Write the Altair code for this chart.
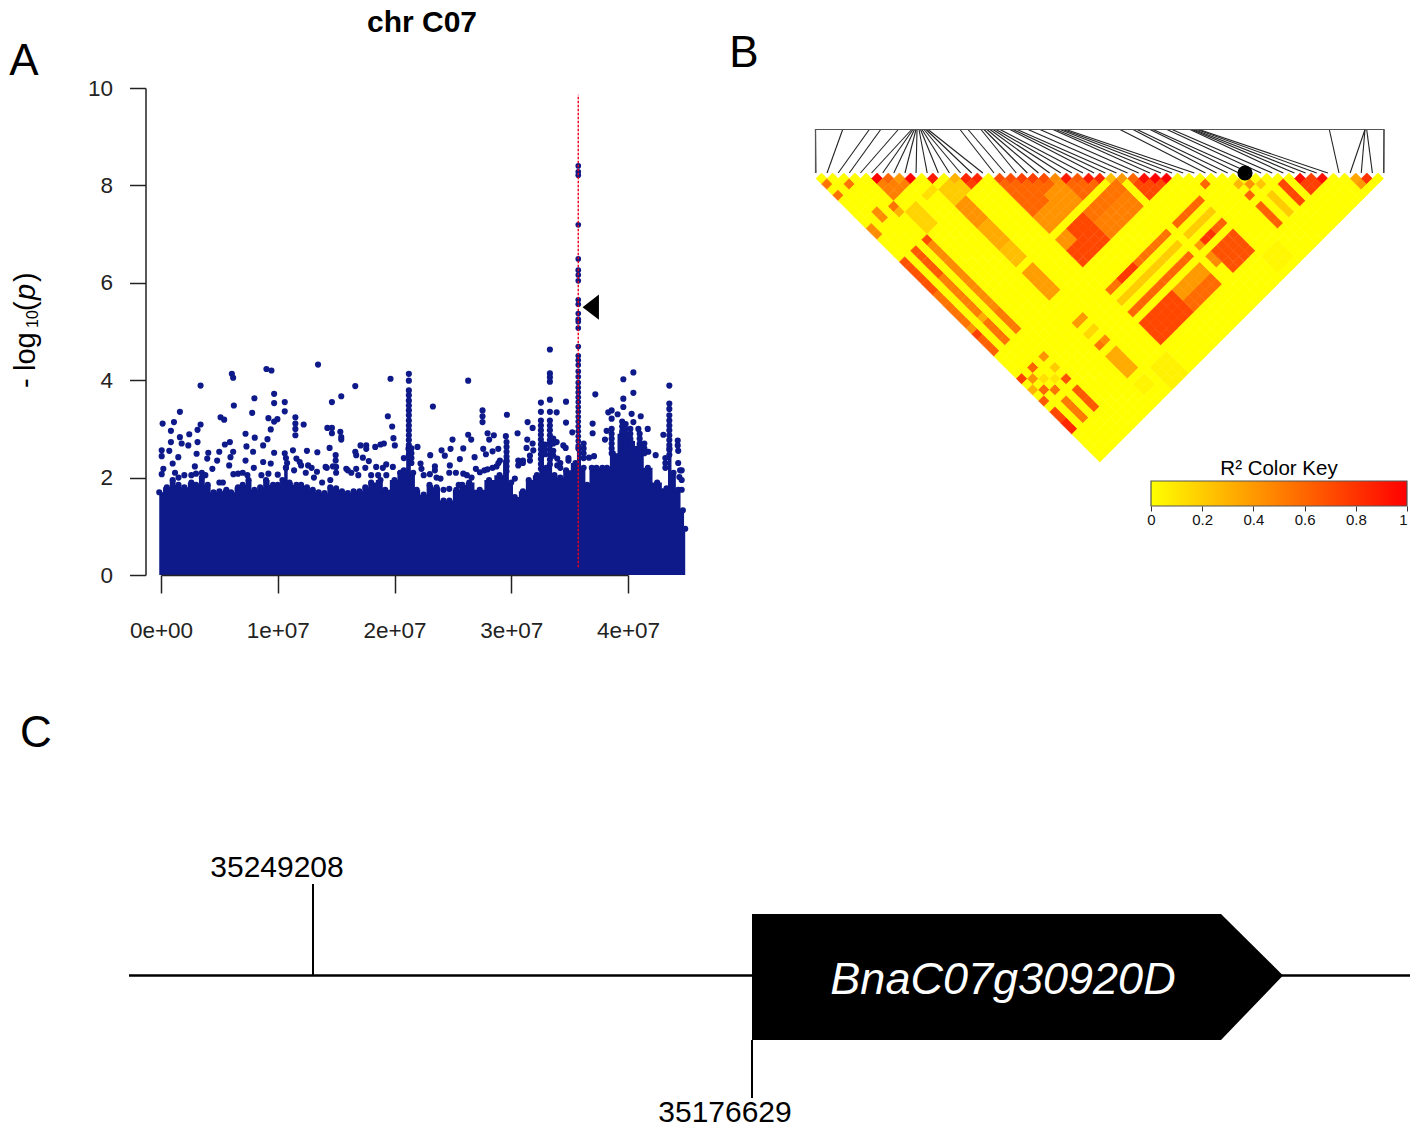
import altair as alt
import pandas as pd

FONT = "Liberation Sans"
W, H = 1402, 1122
NAVY = "#0e1a8a"

# ---------- Panel A: Manhattan plot (position in Mb, -log10 p) ----------
env_mb = [-0.15,0.5,1.0,1.5,2,2.6,3,3.5,4,4.5,5,5.6,6,6.6,7,7.5,8,8.5,9,9.6,10,10.4,10.7,11,11.6,12,12.5,13,13.5,14,14.5,15,15.5,16,16.5,17,17.5,18,18.8,19.2,20,20.5,20.8,21.2,21.6,21.9,22.5,23,23.6,24.2,24.7,25.3,25.8,26.4,27.3,28.1,29,29.6,30,30.3,31,31.5,32.2,32.6,33,33.3,33.7,34.2,34.7,35.5,35.75,36.2,36.5,36.9,37.3,37.8,38.2,38.7,39.5,40.2,41,41.7,42.5,43.3,43.55,43.9,44.3,44.7,44.9]
env_lp = [1.7,1.8,1.95,1.85,1.8,1.9,1.85,2.0,1.85,1.7,1.72,1.75,1.7,1.8,1.85,1.95,1.75,1.8,1.95,1.85,1.85,1.95,2.2,1.9,1.85,1.85,1.8,1.75,1.7,1.68,1.8,1.78,1.72,1.68,1.72,1.72,1.8,1.9,1.95,1.75,1.95,2.1,2.15,2.6,2.1,1.75,1.65,1.85,1.8,1.53,1.53,1.75,1.85,1.9,1.75,1.95,2.05,2.35,1.9,1.6,1.72,1.95,2.05,2.7,2.2,2.7,2.05,2.0,2.15,2.3,2.6,2.2,1.85,2.2,2.2,2.2,2.2,2.5,2.9,2.75,2.65,2.2,1.9,1.78,2.6,2.1,1.75,1.33,0.95]

out_mb = [0.14,1.11,1.62,3.39,0.85,0.85,1.62,1.77,2.42,2.34,3.13,3.39,3.13,3.05,0.06,0.06,0.71,1.48,0.2,0.06,1.0,2.9,5.1,5.41,6.07,6.18,6.24,5.47,5.9,4.99,4.05,3.96,4.81,6.18,5.95,5.84,7.24,7.32,7.81,8.0,8.03,7.89,7.24,7.95,9.03,9.46,9.69,9.69,10.6,10.6,9.2,9.97,9.69,9.4,9.12,8.75,9.69,8.75,9.4,13.45,11.51,11.51,11.51,11.51,12.22,12.5,11.3,11.6,13.39,11.88,12.6,13.36,14.25,14.64,14.64,14.64,15.44,16.64,15.36,15.44,15.44,14.44,14.96,14.96,14.1,14.73,15.87,16.72,16.64,16.72,17.09,17.58,17.29,17.58,18.35,18.8,19.09,17.8,18.43,19.29,19.86,19.66,19.43,19.8,19.91,20.03,
          21.23,21.23,21.23,21.23,21.23,21.23,21.23,21.23,21.23,21.23,21.23,26.31,23.29,21.97,23.06,24.03,24.31,24.8,24.97,25.89,26.31,26.57,26.86,25.6,24.74,24.69,25.26,25.89,23.46,23.46,23.03,22.23,22.31,23.94,24.69,26.97,27.31,27.54,27.54,27.54,27.97,28.51,28.11,27.6,27.83,28.4,28.89,29.03,28.74,27.97,29.63,29.54,29.6,30.54,31.4,31.83,31.37,31.31,31.83,31.89,32.54,32.54,32.54,32.54,32.54,32.54,33.31,33.31,33.31,33.31,33.31,33.31,33.89,33.31,33.31,33.31,34.69,34.69,35.23,34.46,34.66,33.89,33.94,33.94,30.31,37.2,36.97,36.97,36.66,37.09,39.6,40.46,40.46,39.6,39.6,39.11,38.31,38.6,38.6,40.31,41.09,40.46,40.89,41.69,38.17,38.6,38.03,42.37,41.74,43.03,43.54,43.54,43.54,43.54,43.54,43.54,43.54,44.26,44.26,44.46,44.4,44.6]
out_lp = [3.11,3.14,3.35,3.89,2.96,2.73,2.83,2.7,2.89,2.66,2.98,3.09,2.73,2.49,2.56,2.44,2.55,2.42,2.18,2.07,2.29,2.23,3.24,3.19,4.13,4.05,3.48,2.68,2.73,2.53,2.51,2.39,2.35,2.53,2.42,2.25,2.9,2.64,3.33,3.63,2.82,2.53,2.35,2.2,4.23,4.2,3.72,3.53,3.55,3.36,3.22,3.2,3.15,2.99,2.79,2.66,2.51,2.32,2.29,4.32,3.24,3.11,3.0,2.87,3.09,2.55,2.56,2.39,2.52,2.32,2.25,2.12,3.02,3.02,2.91,3.55,3.67,3.88,2.94,2.83,2.78,2.61,2.46,2.35,2.22,2.23,2.18,2.18,2.53,2.46,2.66,2.66,2.41,2.59,2.63,2.68,2.7,2.34,2.22,2.27,2.22,4.03,3.26,3.05,2.81,2.66,
          4.13,3.99,3.79,3.69,3.58,3.48,3.38,3.28,3.17,3.07,2.97,3.99,3.46,2.63,2.46,2.56,2.45,2.59,2.78,2.6,2.88,2.78,2.42,2.38,2.25,2.1,2.1,2.08,2.23,2.15,2.07,2.29,2.18,1.98,1.77,2.18,2.11,3.38,3.26,3.14,2.91,2.87,2.78,2.59,2.48,2.54,2.59,2.35,2.23,2.17,3.29,2.85,2.73,2.91,3.14,3.02,2.78,2.61,2.7,2.56,3.54,3.35,3.17,3.07,2.97,2.78,4.63,4.14,4.06,3.97,3.6,3.35,3.34,3.17,3.07,2.97,3.56,3.13,2.93,2.66,2.61,2.73,2.39,2.25,1.98,3.71,3.11,2.91,2.41,2.44,4.02,4.16,3.74,3.62,3.45,3.3,3.34,3.38,3.21,3.31,3.26,3.14,3.0,3.0,2.96,3.0,2.78,2.46,2.53,2.88,3.89,3.52,3.41,3.28,3.17,3.07,2.97,2.76,2.66,2.15,2.01,1.75]

# stacked dots near the top of the solid mass
near_mb = [1.2,1.5,2.0,2.6,3.0,3.5,3.8,4.4,5.0,5.3,6.2,6.6,7.0,7.4,8.6,9.2,10.0,10.6,10.7,10.8,10.7,11.4,12.0,12.4,12.9,13.1,13.8,14.2,14.5,15.0,15.0,16.0,16.3,16.9,17.5,18.0,18.6,19.0,19.3,
           20.8,20.5,22.5,23.6,24.2,25.5,26.2,26.6,27.7,28.4,28.9,
           21.23,21.23,21.23,21.23,21.23,21.45,21.45,21.45,21.45,29.6,29.6,29.6,29.6,29.6,29.6,30.6,30.6,31.0,31.0,31.6,31.6,
           32.54,32.54,32.54,32.54,32.54,32.54,32.54,32.9,32.9,32.9,33.31,33.31,33.31,33.31,33.31,33.31,33.31,33.6,33.6,33.6,33.6,34.2,34.2,34.9,34.9,
           36.2,36.2,36.2,36.2,38.6,38.6,38.6,38.6,38.6,39.5,39.5,39.5,39.5,39.5,39.5,39.8,39.8,39.8,39.8,39.8,39.8,40.2,40.2,40.2,40.2,41.0,41.0,41.0,41.0,41.0,41.4,41.4,41.4,
           43.54,43.54,43.54,43.54,43.54,43.2,43.2,43.2,44.3,44.3,44.6,44.6]
near_lp = [2.1,2.0,2.05,2.05,2.08,2.1,2.05,2.18,1.9,1.9,2.07,2.08,2.1,2.05,2.05,2.08,2.06,2.5,2.4,2.3,2.2,2.15,2.25,2.1,2.2,2.0,1.9,2.2,1.95,2.22,2.1,2.15,2.1,2.05,2.2,2.05,2.05,2.2,2.05,
           2.4,2.1,2.05,2.0,1.75,1.85,2.05,2.0,2.15,2.2,2.3,
           2.87,2.77,2.67,2.57,2.47,2.6,2.5,2.4,2.3,2.63,2.53,2.43,2.33,2.23,2.13,2.35,2.25,2.35,2.3,2.35,2.45,
           2.88,2.68,2.58,2.48,2.38,2.28,2.18,2.68,2.58,2.48,2.87,2.77,2.67,2.57,2.47,2.37,2.27,2.8,2.7,2.55,2.45,2.3,2.2,2.4,2.35,
           2.7,2.6,2.5,2.4,2.9,2.8,2.7,2.6,2.5,3.15,3.05,2.95,2.85,2.75,2.65,3.1,3.0,2.9,2.8,2.7,2.6,3.0,2.9,2.8,2.7,2.9,2.8,2.7,2.6,2.5,2.7,2.6,2.5,
           2.87,2.77,2.67,2.57,2.47,2.4,2.3,2.2,2.55,2.3,2.15,1.95]

lead_mb = 35.74
lead_lp = [8.4,8.28,8.21,7.19,6.49,6.26,6.16,6.04,5.65,5.56,5.37,5.25,5.2,5.07,4.69,4.5,4.41,4.31,4.18,4.07,3.95,3.85,3.75,3.65,3.55,3.45,3.35,3.25,3.15,3.05,2.95,2.85,2.75,2.65]
guide_lp = [0.16, 9.86]
marker_mb, marker_lp = 36.81, 5.5
y_ticks = [0, 2, 4, 6, 8, 10]
x_ticks = [0, 1e7, 2e7, 3e7, 4e7]

xA = alt.Scale(domain=[0, 4e7], range=[153, 620], clamp=False, nice=False, zero=False)
yA = alt.Scale(domain=[0, 10], range=[567, 80], nice=False, zero=False)

def X_A(field="bp", axis=None):
    return alt.X(f"{field}:Q", scale=xA, axis=axis, title=None)

def Y_A(field="lp", axis=None):
    return alt.Y(f"{field}:Q", scale=yA, axis=axis, title=None)

env_df = pd.DataFrame({"bp": [m * 1e6 for m in env_mb], "lp": env_lp})
out_df = pd.DataFrame({"bp": [m * 1e6 for m in out_mb + near_mb], "lp": out_lp + near_lp})
lead_df = pd.DataFrame({"bp": [lead_mb * 1e6] * len(lead_lp), "lp": lead_lp})

axis_y = alt.Axis(values=y_ticks, orient="left", offset=-137.5, tickSize=16, tickWidth=1.5, domainWidth=1.5,
                  tickColor="#222", domainColor="#222", grid=False, labelFont=FONT, labelFontSize=22.5,
                  labelColor="#222", labelPadding=17, labelOverlap=False, format="d", zindex=1,
                  labelFlush=False)
axis_x = alt.Axis(values=x_ticks, orient="bottom", offset=-555, tickSize=18, tickWidth=1.5, domainWidth=1.5,
                  tickColor="#222", domainColor="#222", grid=False, labelFont=FONT, labelFontSize=22.5,
                  labelColor="#222", labelPadding=26, labelOverlap=False, zindex=1, labelFlush=False,
                  labelExpr="replace(format(datum.value,'.0e'),'+','+0')")

mass = alt.Chart(env_df).mark_area(color=NAVY, clip=False, interpolate="step").encode(x=X_A(), y=Y_A())
edge = alt.Chart(env_df).mark_circle(color=NAVY, size=38, opacity=1).encode(x=X_A(), y=Y_A())
scatter = alt.Chart(out_df).mark_circle(color=NAVY, size=38, opacity=1).encode(x=X_A(axis=axis_x), y=Y_A(axis=axis_y))
lead = alt.Chart(lead_df).mark_circle(color=NAVY, size=32, opacity=1).encode(x=X_A(), y=Y_A())
guide = alt.Chart(pd.DataFrame({"bp": [lead_mb * 1e6], "lp": [guide_lp[0]], "lp2": [guide_lp[1]]})).mark_rule(
    color="#e8001c", strokeWidth=1.4, strokeDash=[2.5, 1.5]
).encode(x=X_A(), y=Y_A(), y2="lp2:Q")
marker = alt.Chart(pd.DataFrame({"bp": [marker_mb * 1e6], "lp": [marker_lp]})).mark_point(
    shape="M 1 -1.55 L -1 0 L 1 1.55 Z", size=269, filled=True, color="black", opacity=1
).encode(x=X_A(), y=Y_A())

# ---------- Panel B: LD triangle ----------
N_RANK = 51
ld_diag = [0,0,0,0,0,1,.6,.4,1,0,.9,0,.3,.85,.85,0,.7,.7,.75,.75,.7,.45,.9,.65,.9,.85,.25,.4,.6,.95,1,1,0,0,0,0,0,0,0,0,0,0,0,.95,.75,.95,0,0,.35,.8,0]
# (first p, last p, first q, last q, r2); later entries overwrite earlier ones
ld_blocks = [
    (0,0,1,1,.55),(2,2,3,3,.55),(0,0,3,3,.55),
    (5,8,5,8,.5),(8,9,11,11,.12),(5,6,11,14,.17),(10,12,12,14,.2),(4,4,9,9,.55),(4,4,10,10,.3),
    (2,2,8,9,.45),(0,0,9,10,.45),
    (13,14,13,14,.75),
    (4,4,15,26,.45),(4,4,15,15,.7),(2,2,15,26,.5),(2,2,15,19,.65),(0,0,15,26,.55),(0,0,15,20,.68),
    (0,0,27,31,.62),(0,0,27,27,.42),(0,0,28,28,.75),(2,2,27,31,.55),(2,2,27,27,.32),(4,4,27,31,.52),(4,4,27,27,.45),
    (10,11,15,18,.42),(10,11,19,22,.33),(10,11,23,25,.25),(10,11,27,31,.38),
    (16,25,16,25,.6),(16,18,23,25,.42),(19,21,22,25,.42),
    (16,26,27,31,.55),(16,20,27,31,.72),(16,17,27,28,.42),(21,26,29,31,.5),
    (28,31,28,31,.72),
    (28,32,36,36,.6),(28,32,38,38,.2),(28,32,40,40,.62),(28,28,40,40,.4),(29,30,40,40,.8),
    (29,32,42,45,.68),(28,28,42,43,.45),
    (16,26,42,45,.58),(16,21,42,45,.72),(22,26,42,43,.4),
    (16,26,40,40,.6),(16,26,38,38,.2),(16,26,36,36,.55),(18,20,36,36,.78),
    (39,39,42,45,.2),(37,37,42,45,.62),(41,41,42,45,.72),(34,34,35,35,.6),(37,37,38,38,.28),(38,38,39,39,.42),(39,39,40,40,.22),(37,37,40,40,.62),
    (43,45,43,45,.75),(48,48,49,49,.4),
    (13,15,47,50,.05),(10,11,47,48,.04),(33,35,47,49,.03),
    (4,4,36,36,.42),(4,4,38,38,.2),(2,2,36,36,.6),(2,2,38,38,.12),(1,1,37,37,.42),(0,0,36,36,.75),(4,4,40,40,.68),(3,3,39,39,.1),(0,0,38,38,.3),(1,1,39,39,.6),(2,2,40,40,.55),(0,0,40,40,.65),
    (4,4,42,45,.65),(2,2,42,45,.52),(0,0,42,45,.72),(0,0,44,45,.85),
    (10,11,36,36,.4),(10,11,38,38,.15),(10,10,40,40,.55),(11,11,40,40,.45),(10,11,42,45,.33),
]

cells = {(p, q): 0.0 for p in range(N_RANK) for q in range(p, N_RANK)}
for p1, p2, q1, q2, r in ld_blocks:
    for p in range(p1, p2 + 1):
        for q in range(q1, q2 + 1):
            if p <= q:
                cells[(p, q)] = r
for k, r in enumerate(ld_diag):
    cells[(k, k)] = r
ld_df = pd.DataFrame([{"rank": (p + q) / 2, "depth": (q - p), "r2": r} for (p, q), r in cells.items()])

xB = alt.Scale(domain=[0, 50], range=[813.5, 1370], nice=False, zero=False)
yB = alt.Scale(domain=[0, 50], range=[170.5, 448.5], nice=False, zero=False)
heat = alt.Scale(domain=[0, 1], range=["#ffff00", "#ff0000"], interpolate="rgb")

ld = alt.Chart(ld_df).mark_point(shape="diamond", filled=True, size=122, opacity=1, strokeWidth=0.6).encode(
    x=alt.X("rank:Q", scale=xB, axis=None),
    y=alt.Y("depth:Q", scale=yB, axis=None),
    color=alt.Color("r2:Q", scale=heat, legend=None),
    stroke=alt.Stroke("r2:Q", scale=heat, legend=None),
)

# map position of each SNP along the top edge of the frame (kb)
link_top_kb = [0,27.2,53.8,65.2,82.8,96.2,97.5,99,100.5,101.5,103.5,105,106.5,108.5,110.5,112.5,144.5,152.5,165.5,168.5,171.5,174.5,177.5,180.5,184.5,194.5,197.5,201.5,212.5,224.5,237.5,240.5,244.5,247.5,250.5,304.5,317.5,321.5,334.5,337.5,351.5,356.5,374.5,376.5,378.5,381.5,383.5,513.8,549.5,549.5,551.2,568.5]
link_gap_kb = 11.13
link_rows = []
for m, top in enumerate(link_top_kb):
    link_rows.append({"m": m, "kb": top, "lev": 1})
    link_rows.append({"m": m, "kb": m * link_gap_kb + 0.4, "lev": 0})
link_df = pd.DataFrame(link_rows)
frame_df = pd.DataFrame({"kb": [0, 0, 568.5, 568.5], "lev": [0, 1, 1, 0], "o": [0, 1, 2, 3]})
xL = alt.Scale(domain=[0, 568.5], range=[807.5, 1376], nice=False, zero=False)
yL = alt.Scale(domain=[0, 1], range=[165, 121.5], nice=False, zero=False)

links = alt.Chart(link_df).mark_line(color="#222", strokeWidth=1.1).encode(
    x=alt.X("kb:Q", scale=xL, axis=None), y=alt.Y("lev:Q", scale=yL, axis=None), detail="m:N")
frame = alt.Chart(frame_df).mark_line(color="#555", strokeWidth=1.2).encode(
    x=alt.X("kb:Q", scale=xL, axis=None), y=alt.Y("lev:Q", scale=yL, axis=None), order="o:Q")
dot = alt.Chart(pd.DataFrame({"kb": [429.5], "lev": [0]})).mark_circle(color="black", size=230, opacity=1).encode(
    x=alt.X("kb:Q", scale=xL, axis=None), y=alt.Y("lev:Q", scale=yL, axis=None))

key_ticks = [0, 0.2, 0.4, 0.6, 0.8, 1]
xK = alt.Scale(domain=[0, 1], range=[1143, 1399], nice=False, zero=False)
key = alt.Chart(pd.DataFrame({"a": [0], "b": [1]})).mark_rect(
    color=alt.LinearGradient(gradient="linear", x1=0, x2=1, y1=0, y2=0,
                             stops=[alt.GradientStop(color="#ffff00", offset=0), alt.GradientStop(color="#ff0000", offset=1)]),
    stroke="#555", strokeWidth=1.2,
).encode(
    x=alt.X("a:Q", scale=xK, title=None,
            axis=alt.Axis(values=key_ticks, orient="bottom", offset=498 - H, tickSize=5, tickColor="#333", domain=False,
                          grid=False, labelFont=FONT, labelFontSize=15, labelColor="#111", labelPadding=1,
                          labelOverlap=False, labelFlush=False, format="~g", zindex=1,
                          labelAlign=alt.expr("datum.value == 1 ? 'right' : 'center'"))),
    x2="b:Q",
    y=alt.value(473), y2=alt.value(498),
)

# ---------- Panel C: gene model ----------
snp_up, snp_down = 35249208, 35176629
x_start, x_end = 35279628, 35067019
gene_shoulder, gene_tip = 35099092, 35088842
xC = alt.Scale(domain=[snp_up, snp_down], range=[305, 744], nice=False, zero=False)
yC = alt.Scale(domain=[-1, 1], range=[1032, 906], nice=False, zero=False)

def XC():
    return alt.X("pos:Q", scale=xC, axis=None)

def YC():
    return alt.Y("lev:Q", scale=yC, axis=None)

backbone = alt.Chart(pd.DataFrame({"pos": [x_start, x_end], "lev": [0.024, 0.024]})).mark_line(
    color="black", strokeWidth=2.6).encode(x=XC(), y=YC())
gene = alt.Chart(pd.DataFrame({"pos": [snp_down, gene_shoulder, gene_tip],
                               "lev": [1, 1, 0.024], "lev2": [-1, -1, 0.024]})).mark_area(color="black").encode(
    x=XC(), y=YC(), y2="lev2:Q")
tick_up = alt.Chart(pd.DataFrame({"pos": [snp_up], "lev": [0.024], "lev2": [1.476]})).mark_rule(
    color="black", strokeWidth=2).encode(x=XC(), y=YC(), y2="lev2:Q")
tick_down = alt.Chart(pd.DataFrame({"pos": [snp_down], "lev": [-1], "lev2": [-1.92]})).mark_rule(
    color="black", strokeWidth=2).encode(x=XC(), y=YC(), y2="lev2:Q")


def label(text, x, y, size, **kw):
    base = dict(font=FONT, fontSize=size, color="black", align="center", baseline="middle")
    base.update(kw)
    return alt.Chart(pd.DataFrame({"t": [text]})).mark_text(**base).encode(
        x=alt.value(x), y=alt.value(y), text="t:N")


rot = dict(angle=270, align="left", baseline="alphabetic")
texts = [
    label("A", 16, 54, 44),
    label("B", 736, 46, 44),
    label("C", 28, 726, 44),
    label("chr C07", 414, 15, 30, fontWeight="bold"),
    label("-", 27, 388 - 8, 29, **rot),
    label("log", 27, 371 - 8, 29, **rot),
    label("10", 30, 328 - 8, 16, **rot),
    label("(", 27, 311 - 8, 29, **rot),
    label("p", 27, 300 - 8, 29, fontStyle="italic", **rot),
    label(")", 27, 282 - 8, 29, **rot),
    label("R² Color Key", 1271, 461, 20.5),
    label(str(snp_up), 269, 860, 30),
    label(str(snp_down), 717, 1105, 30),
    label("BnaC07g30920D", 995, 972, 45, fontStyle="italic", color="white"),
]

chart = alt.layer(
    mass, edge, scatter, lead, guide, marker,
    ld, links, frame, dot, key,
    backbone, gene, tick_up, tick_down,
    *texts,
).resolve_scale(x="independent", y="independent", color="independent", stroke="independent").properties(
    width=W, height=H, padding=0, background="white",
    autosize=alt.AutoSizeParams(type="none"),
).configure_view(stroke=None)

chart.save("out.html", embed_options={"renderer": "svg", "actions": False})
